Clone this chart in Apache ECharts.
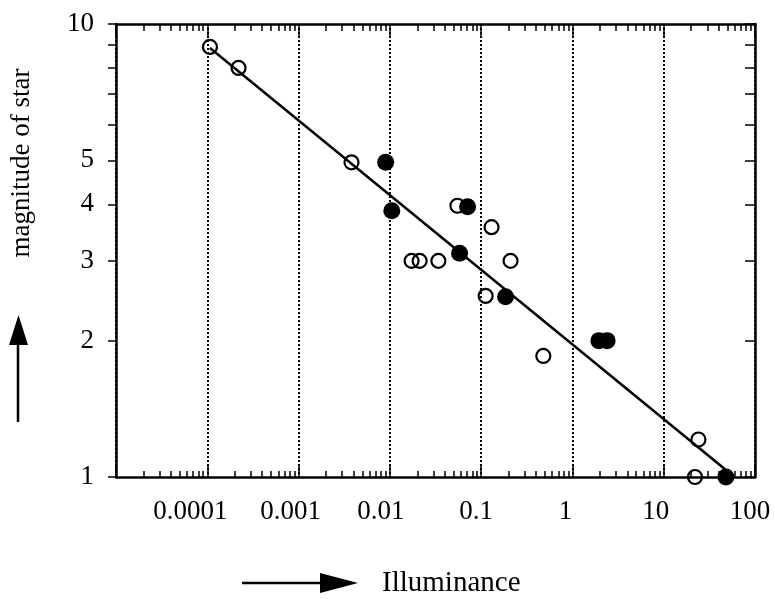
<!DOCTYPE html>
<html><head><meta charset="utf-8">
<script src="https://cdn.jsdelivr.net/npm/echarts@6/dist/echarts.min.js"></script>
<style>html,body{margin:0;padding:0;background:#fff}#c{width:775px;height:599px}</style>
</head><body><div id="c"></div>
<script>
// Open circles: [illuminance, magnitude]
const openPoints = [
  [0.000107, 8.9], [0.00022, 8.0], [0.0038, 4.95], [0.055, 3.97], [0.13, 3.56],
  [0.0173, 3.0], [0.0212, 3.0], [0.034, 3.0], [0.21, 3.0], [0.112, 2.51],
  [0.48, 1.85], [24, 1.21], [22, 1.0]
];
// Filled circles
const filledPoints = [
  [0.0090, 4.95], [0.0105, 3.87], [0.071, 3.95], [0.058, 3.12], [0.185, 2.5],
  [1.95, 2.0], [2.4, 2.0], [48, 1.0]
];
// Fitted line end points
const fitLine = [[0.000107, 8.85], [50, 1.03]];
const xTickLabels = ['', '0.0001', '0.001', '0.01', '0.1', '1', '10', '100'];
const yLabelValues = [1, 2, 3, 4, 5, 10];

// style only: horizontal nudges of the hand-set x labels (px, negative = left)
const xLabelNudge = [0, -17, -8, -9, -5, -7, -8, -5];

const FONT = '"Liberation Serif", "Times New Roman", serif';
const black = '#000';
const rich = {};
xLabelNudge.forEach((n, i) => {
  rich['p' + i] = {
    fontFamily: FONT, fontSize: 27, color: black,
    padding: n < 0 ? [0, -2 * n, 0, 0] : [0, 0, 0, 2 * n]
  };
});

const chart = echarts.init(document.getElementById('c'), null, {renderer: 'canvas'});
chart.setOption({
  animation: false,
  backgroundColor: '#fff',
  grid: {left: 116, right: 20, top: 24, bottom: 122, containLabel: false},
  xAxis: [{
    type: 'log', logBase: 10, min: 0.00001, max: 100, interval: 1, position: 'bottom',
    axisLine: {show: true, lineStyle: {color: black, width: 2.5}},
    axisTick: {show: true, inside: true, length: 13, lineStyle: {color: black, width: 1.5}},
    minorTick: {show: true, splitNumber: 9, length: 6, lineStyle: {color: black, width: 1.5}},
    splitLine: {show: true, lineStyle: {color: black, width: 2, type: [2, 2]}},
    axisLabel: {
      margin: 21, color: black, fontFamily: FONT, fontSize: 27, rich: rich,
      formatter: v => {
        const i = Math.round(Math.log10(v)) + 5;
        const t = xTickLabels[i] || '';
        return t ? '{p' + i + '|' + t + '}' : '';
      }
    }
  }, {
    type: 'log', logBase: 10, min: 0.00001, max: 100, interval: 1, position: 'top',
    axisLine: {show: true, lineStyle: {color: black, width: 2.5}},
    axisTick: {show: true, inside: true, length: 13, lineStyle: {color: black, width: 1.5}},
    minorTick: {show: true, splitNumber: 9, length: 7, lineStyle: {color: black, width: 1.5}},
    splitLine: {show: false},
    axisLabel: {show: false}
  }],
  yAxis: [{
    type: 'log', logBase: 10, min: 1, max: 10, position: 'left',
    axisLine: {show: true, lineStyle: {color: black, width: 2.5}},
    axisTick: {show: true, inside: false, length: 8, lineStyle: {color: black, width: 1.5}},
    minorTick: {show: true, splitNumber: 9, length: 8, lineStyle: {color: black, width: 1.5}},
    splitLine: {show: false},
    axisLabel: {
      show: true, margin: 22, color: black, fontFamily: FONT, fontSize: 27,
      customValues: yLabelValues,
      formatter: v => String(Math.round(v))
    }
  }, {
    type: 'log', logBase: 10, min: 1, max: 10, position: 'right',
    axisLine: {show: true, lineStyle: {color: black, width: 2.5}},
    axisTick: {show: true, inside: true, length: 10, lineStyle: {color: black, width: 1.5}},
    minorTick: {show: true, splitNumber: 9, length: 10, lineStyle: {color: black, width: 1.5}},
    splitLine: {show: false},
    axisLabel: {show: false}
  }],
  series: [{
    type: 'line', data: fitLine, xAxisIndex: 0, yAxisIndex: 0,
    showSymbol: false, symbol: 'none', lineStyle: {color: black, width: 2.5}, z: 2
  }, {
    type: 'scatter', data: openPoints, xAxisIndex: 0, yAxisIndex: 0,
    symbol: 'circle', symbolSize: 14,
    itemStyle: {color: 'rgba(255,255,255,0)', borderColor: black, borderWidth: 2.2, opacity: 1}, z: 3
  }, {
    type: 'scatter', data: filledPoints, xAxisIndex: 0, yAxisIndex: 0,
    symbol: 'circle', symbolSize: 17,
    itemStyle: {color: black, opacity: 1}, z: 4
  }],
  graphic: [
    {type: 'text', x: 22, y: 163, rotation: Math.PI / 2,
     style: {text: 'magnitude of star', font: '27px ' + FONT, fill: black, textAlign: 'center', textVerticalAlign: 'middle'}},
    {type: 'line', shape: {x1: 18, y1: 422, x2: 18, y2: 344}, style: {stroke: black, lineWidth: 2.5}},
    {type: 'polygon', shape: {points: [[9, 345], [28, 345], [18.5, 315]]}, style: {fill: black}},
    {type: 'line', shape: {x1: 242, y1: 583, x2: 322, y2: 583}, style: {stroke: black, lineWidth: 2.5}},
    {type: 'polygon', shape: {points: [[320, 573], [320, 593], [358, 583]]}, style: {fill: black}},
    {type: 'text', x: 382, y: 583,
     style: {text: 'Illuminance', font: '29px ' + FONT, fill: black, textAlign: 'left', textVerticalAlign: 'middle'}}
  ]
});
</script></body></html>
